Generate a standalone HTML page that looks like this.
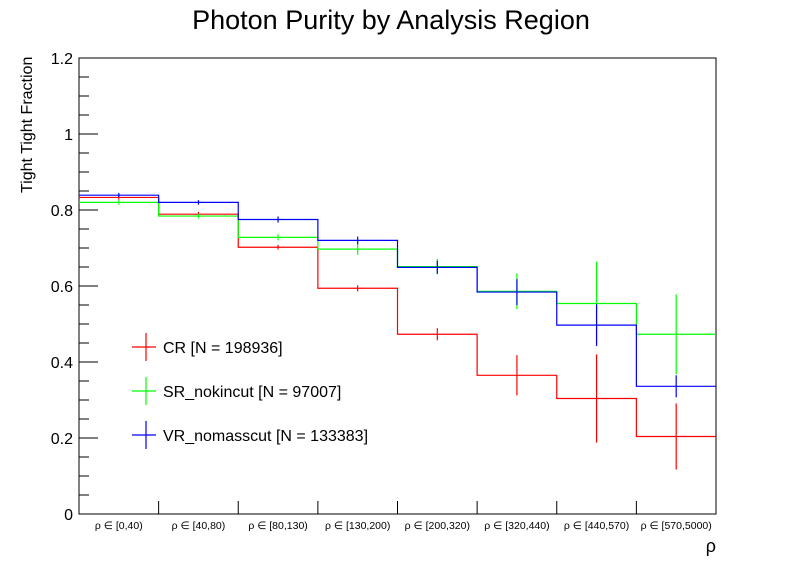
<!DOCTYPE html>
<html><head><meta charset="utf-8"><style>
body{margin:0;background:#fff;}
svg{display:block;font-family:"Liberation Sans",sans-serif;}
</style></head><body>
<svg id="chart" width="796" height="572" viewBox="0 0 796 572">
<rect x="0" y="0" width="796" height="572" fill="#fff"/>
<text x="391" y="29" font-size="27" text-anchor="middle">Photon Purity by Analysis Region</text>
<text transform="translate(32,193) rotate(-90)" font-size="16" text-anchor="start">Tight Tight Fraction</text>
<text x="716" y="552" font-size="18" text-anchor="end">ρ</text>
<g id="axes"></g>
<g id="series"></g>
<g id="legend"></g>
</svg>
<script>
const categories = ["ρ ∈ [0,40)","ρ ∈ [40,80)","ρ ∈ [80,130)","ρ ∈ [130,200)","ρ ∈ [200,320)","ρ ∈ [320,440)","ρ ∈ [440,570)","ρ ∈ [570,5000)"];
const yTicks = [0,0.2,0.4,0.6,0.8,1,1.2];
const yTickLabels = ["0","0.2","0.4","0.6","0.8","1","1.2"];
const seriesNames = ["CR [N = 198936]","SR_nokincut [N = 97007]","VR_nomasscut [N = 133383]"];
const seriesColors = ["#ff0000","#00ff00","#0000ff"];
const crValues = [0.833,0.789,0.702,0.594,0.473,0.365,0.304,0.204];
const crErrors = [0.006,0.006,0.006,0.008,0.016,0.053,0.116,0.087];
const srValues = [0.820,0.784,0.728,0.697,0.651,0.586,0.554,0.473];
const srErrors = [0.006,0.006,0.008,0.015,0.02,0.047,0.11,0.105];
const vrValues = [0.839,0.820,0.775,0.720,0.649,0.584,0.497,0.336];
const vrErrors = [0.006,0.006,0.008,0.01,0.017,0.034,0.055,0.029];

const L=79,R=716,T=58,B=514,yMax=1.2;
const xs=i=>L+(R-L)*i/categories.length;
const ys=v=>B-(B-T)*v/yMax;
const NS="http://www.w3.org/2000/svg";
function mk(tag,parent,attrs){const e=document.createElementNS(NS,tag);for(const k in attrs)e.setAttribute(k,attrs[k]);parent.appendChild(e);return e;}
const axes=document.getElementById('axes');
let f=mk('rect',axes,{x:L,y:T,width:R-L,height:B-T,fill:'none',stroke:'#000','stroke-width':1});


for(let v=0;v<=yMax+1e-9;v+=0.05){
  const major=Math.abs(v/0.2-Math.round(v/0.2))<1e-6;
  const t=mk('line',axes,{x1:L,x2:L+(major?19:10),y1:ys(v),y2:ys(v),stroke:'#000','stroke-width':1});
  
  
}
yTicks.forEach((v,i)=>{
  const t=mk('text',axes,{x:73,y:ys(v)+6,'font-size':16,'text-anchor':'end'});
  t.textContent=yTickLabels[i];
  
  
});
categories.forEach((c,i)=>{
  if(i>0){const t=mk('line',axes,{x1:xs(i),x2:xs(i),y1:B,y2:B-13,stroke:'#000','stroke-width':1});
  
  }
  const tx=mk('text',axes,{x:(xs(i)+xs(i+1))/2,y:529,'font-size':10.5,'text-anchor':'middle'});
  tx.textContent=c;
  
  
});
const sg=document.getElementById('series');
const data=[[crValues,crErrors],[srValues,srErrors],[vrValues,vrErrors]];
data.forEach(([vals,errs],s)=>{
  const g=mk('g',sg,{});
  
  
  let d='';
  vals.forEach((v,i)=>{d+=(i===0?'M':'L')+xs(i)+','+ys(v)+'L'+xs(i+1)+','+ys(v);});
  const p=mk('path',g,{d:d,fill:'none',stroke:seriesColors[s],'stroke-width':1.2});
  
  
  vals.forEach((v,i)=>{
    const cx=(xs(i)+xs(i+1))/2;
    const e=mk('line',g,{x1:cx,x2:cx,y1:ys(v+errs[i]),y2:ys(v-errs[i]),stroke:seriesColors[s],'stroke-width':1.2});
    
    
  });
});
const lg=document.getElementById('legend');
seriesNames.forEach((n,i)=>{
  const y=347+i*44;
  const g=mk('g',lg,{});
  
  
  mk('line',g,{x1:132,x2:156,y1:y,y2:y,stroke:seriesColors[i],'stroke-width':1.2});
  mk('line',g,{x1:146,x2:146,y1:y-14,y2:y+14,stroke:seriesColors[i],'stroke-width':1.2});
  const t=mk('text',g,{x:163,y:y+6,'font-size':16});
  t.textContent=n;
});
</script>
</body></html>
